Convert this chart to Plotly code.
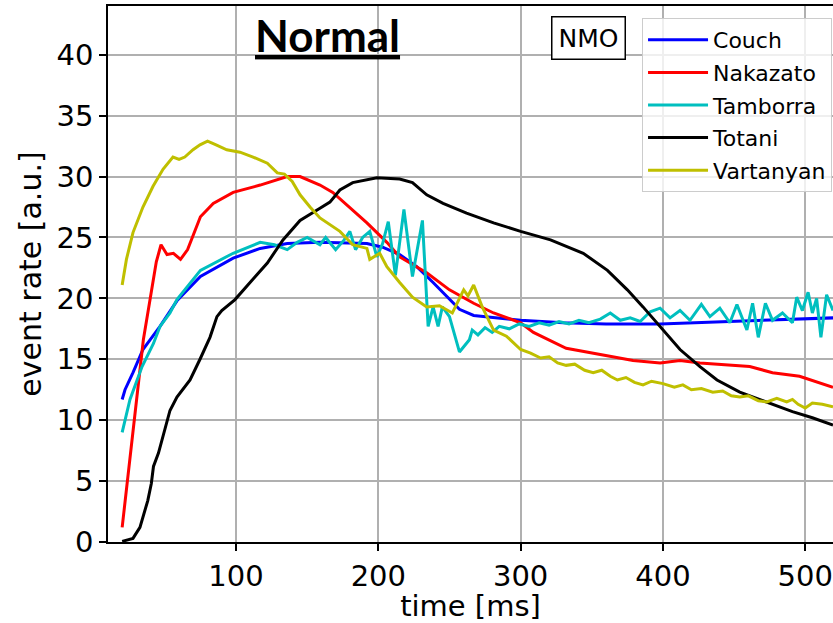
import plotly.graph_objects as go

# ---------------- data ----------------
couch_t = [20, 22, 27.6, 34.6, 39.6, 46.6, 58.5, 75, 98, 117, 136, 159, 192, 203, 215, 227,
           238.5, 250, 257, 267, 285, 300, 330, 360, 398, 450, 500, 520]
couch_y = [11.7, 12.5, 13.9, 15.8, 16.6, 17.7, 19.8, 21.8, 23.3, 24.1, 24.5, 24.6, 24.5, 24.2, 23.6, 22.6,
           21.3, 19.9, 19.1, 18.6, 18.4, 18.2, 18.0, 17.9, 17.9, 18.1, 18.3, 18.4]

nakazato_t = [20, 27.6, 34.9, 39.6, 44, 47.3, 51.5, 56, 61, 66, 75, 84, 98, 117, 136, 145, 159, 168,
              192, 206, 215, 234, 250, 267, 281, 300, 309, 332, 356, 379, 398, 412, 426, 461, 477, 496, 519.5]
nakazato_y = [1.2, 9.0, 16.6, 19.9, 23.0, 24.4, 23.6, 23.7, 23.2, 24.0, 26.7, 27.8, 28.7, 29.3, 30.0, 30.0, 29.3, 28.7,
              26.2, 24.6, 23.4, 22.1, 20.7, 19.6, 18.8, 18.0, 17.2, 15.9, 15.4, 14.9, 14.7, 14.9, 14.7, 14.4, 13.9, 13.6, 12.7]

tamborra_t = [20, 25.5, 34, 42, 46.6, 53.6, 58.5, 75, 98, 117, 127, 136, 143, 150, 159, 163, 170, 176,
              180, 184, 189, 194, 199, 203, 207, 212, 218, 224, 231, 235, 238.5, 242, 245, 250, 257, 264,
              266, 270, 275, 280, 285, 292, 299, 306, 313, 320, 327, 334, 341, 348, 356, 363, 370, 377,
              384, 391, 398, 405, 412, 419, 427, 433, 440, 447, 452, 459, 463, 467, 472, 477, 484, 491,
              494, 498, 502, 505, 508, 511, 515, 519.5]
tamborra_y = [9.0, 11.7, 14.4, 16.3, 17.7, 18.8, 19.9, 22.3, 23.7, 24.6, 24.4, 24.0, 24.6, 25.0, 24.4, 25.0, 24.0, 24.8,
              25.5, 24.0, 25.0, 25.5, 23.4, 24.5, 26.3, 21.9, 27.3, 21.8, 26.4, 17.7, 19.3, 17.7, 19.3, 18.5, 15.6, 16.6,
              17.4, 17.0, 17.6, 17.2, 17.7, 17.5, 17.9, 17.7, 18.0, 17.8, 18.1, 17.9, 18.2, 18.0, 18.3, 18.8, 18.2, 18.4,
              18.1, 18.9, 19.2, 18.4, 19.0, 18.2, 19.5, 18.5, 19.2, 18.0, 19.5, 17.4, 19.6, 16.8, 19.6, 18.2, 18.8, 18.0,
              20.1, 19.0, 20.5, 18.8, 20.0, 16.8, 20.3, 19.0]

totani_t = [20, 27.6, 32.5, 38, 40.5, 42, 45.5, 53.6, 58.5, 67.7, 74.7, 81.7, 86.6, 90, 99.3, 110, 122, 133,
            145, 159, 166, 173, 182, 199, 215, 224, 234, 245.5, 262, 281, 300, 321, 344, 361, 375, 386, 398,
            412, 426, 438, 454, 473, 491, 505, 519.5]
totani_y = [0.05, 0.3, 1.2, 3.4, 4.8, 6.2, 7.3, 10.8, 11.9, 13.3, 15.0, 16.8, 18.5, 19.0, 19.9, 21.3, 22.9, 24.8,
            26.4, 27.4, 27.9, 28.9, 29.5, 29.9, 29.8, 29.5, 28.5, 27.8, 27.0, 26.2, 25.5, 24.8, 23.7, 22.3, 20.7, 19.3, 17.7,
            15.8, 14.4, 13.3, 12.3, 11.5, 10.7, 10.2, 9.6]

vartanyan_t = [20, 23, 27.6, 34.6, 41.7, 48.7, 55.7, 60, 64, 69.8, 74.7, 80, 86, 93.5, 102.8, 112, 122, 129,
               134, 139.5, 145, 152, 159, 164, 173, 182, 192, 194, 201, 206, 215, 224, 234, 243, 252, 260,
               263, 267, 273, 281, 290, 300, 307, 314, 320, 326, 332, 338, 345, 351, 357, 363, 368, 374,
               380, 386, 392, 400, 408, 414, 420, 427, 435, 442, 448, 454, 460, 467, 473, 480, 487, 491,
               495, 500, 505, 512, 519.5]
vartanyan_y = [21.1, 23.2, 25.4, 27.5, 29.2, 30.6, 31.6, 31.4, 31.6, 32.2, 32.6, 32.9, 32.6, 32.2, 32.0, 31.6, 31.1, 30.3,
               30.2, 29.6, 28.5, 27.5, 26.6, 26.2, 25.5, 24.4, 24.1, 23.2, 23.7, 22.6, 21.3, 20.1, 19.3, 19.4, 18.8, 20.7,
               20.2, 21.1, 19.3, 17.4, 16.9, 15.8, 15.5, 15.1, 15.2, 14.7, 14.5, 14.6, 14.1, 13.9, 14.1, 13.6, 13.3, 13.5,
               13.1, 12.9, 13.2, 13.0, 12.7, 12.9, 12.5, 12.6, 12.3, 12.4, 12.0, 11.9, 12.0, 11.6, 11.5, 11.8, 11.5, 11.7,
               11.3, 11.0, 11.4, 11.3, 11.1]

series_names = ["Couch", "Nakazato", "Tamborra", "Totani", "Vartanyan"]
series_t = [couch_t, nakazato_t, tamborra_t, totani_t, vartanyan_t]
series_y = [couch_y, nakazato_y, tamborra_y, totani_y, vartanyan_y]
series_colors = ["#0000ff", "#ff0000", "#00bfbf", "#000000", "#bfbf00"]

x_ticks = [100, 200, 300, 400, 500]
y_ticks = [0, 5, 10, 15, 20, 25, 30, 35, 40]

FONT = "DejaVu Sans"

fig = go.Figure()
for name, t, y, c in zip(series_names, series_t, series_y, series_colors):
    fig.add_trace(go.Scatter(x=t, y=y, mode="lines", name=name, legendgroup=name,
                             line=dict(color=c, width=3)))

fig.update_layout(
    width=833, height=623,
    margin=dict(l=108, r=0, t=6, b=81),
    paper_bgcolor="white", plot_bgcolor="white",
    font=dict(family=FONT, color="black"),
    showlegend=True,
    legend=dict(x=0.7366, y=0.9776, xanchor="left", yanchor="top",
                bgcolor="rgba(255,255,255,0.8)", bordercolor="#cccccc", borderwidth=1,
                font=dict(family=FONT, size=22, color="black"),
                itemwidth=60, tracegroupgap=1),
    annotations=[
        dict(text="<b><u>Normal</u></b>", xref="paper", yref="paper",
             x=(327.5 - 108) / 725, y=0.946, xanchor="center", yanchor="middle",
             showarrow=False, font=dict(family="Lato", size=44, color="black")),
        dict(text="NMO", xref="paper", yref="paper",
             x=(588 - 108) / 725, y=(542 - 37.5) / 536, xanchor="center", yanchor="middle",
             showarrow=False, font=dict(family=FONT, size=25, color="black"),
             bordercolor="black", borderwidth=1.5, borderpad=6, bgcolor="white"),
    ],
)

fig.update_xaxes(range=[10.05, 519.5], tickvals=x_ticks, ticks="outside", ticklen=7, tickwidth=1.5,
                 tickcolor="black", showline=True, linecolor="black", linewidth=1.5, mirror=True,
                 showgrid=True, gridcolor="#b0b0b0", gridwidth=1.5, zeroline=False,
                 tickfont=dict(family=FONT, size=29),
                 title=dict(text="time [ms]", font=dict(family=FONT, size=29), standoff=2))
fig.update_yaxes(range=[0, 44.0], tickvals=y_ticks, ticks="outside", ticklen=7, tickwidth=1.5,
                 tickcolor="black", showline=True, linecolor="black", linewidth=1.5, mirror=False,
                 showgrid=True, gridcolor="#b0b0b0", gridwidth=1.5, zeroline=False,
                 tickfont=dict(family=FONT, size=29),
                 title=dict(text="event rate [a.u.]", font=dict(family=FONT, size=30), standoff=6))

fig.write_html("out.html")
